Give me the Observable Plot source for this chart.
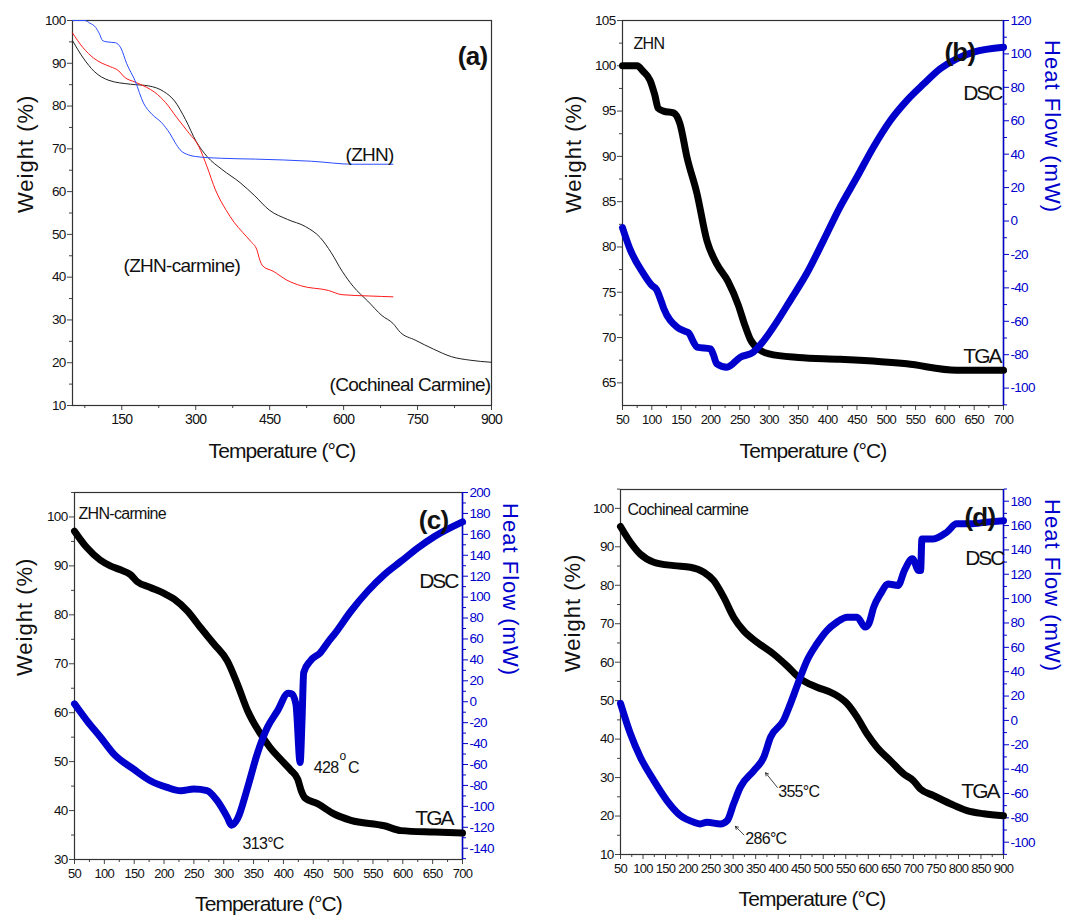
<!DOCTYPE html>
<html><head><meta charset="utf-8">
<script src="https://cdn.jsdelivr.net/npm/d3@7"></script>
<script src="https://cdn.jsdelivr.net/npm/@observablehq/plot@0.6"></script>
<style>
body{margin:0;background:#fff;}
#root{position:relative;width:1072px;height:924px;overflow:hidden;background:#fff;}
.panel{position:absolute;}
.panel svg{font-family:"Liberation Sans",Arial,Helvetica,sans-serif;letter-spacing:-0.7px;overflow:visible;background:transparent;}
</style></head><body><div id="root"></div>
<script>
// ---- TGA data (temperature °C, weight %) ----
const zhnT = [50, 75, 85, 97, 105, 111, 120, 137, 148, 160, 177, 194, 211, 230, 248, 258, 268, 285, 300, 350, 421, 535, 620, 700];
const zhnW = [100, 100, 99.4, 98.4, 96.8, 95.3, 95, 94.8, 93.6, 89.9, 85.9, 80.7, 78.1, 76.2, 73.5, 71.5, 69.8, 68.6, 68.2, 67.8, 67.6, 67.1, 66.4, 66.4];

const zcT = [50, 71, 93, 110, 127, 144, 155, 177, 200, 217, 239, 261, 284, 306, 323, 340, 362, 378, 395, 412, 424, 430, 436, 457, 485, 513, 569, 597, 653, 700];
const zcW = [97.1, 93.7, 91.2, 90, 89.2, 88.2, 86.8, 85.6, 84.4, 83.2, 80.8, 77.4, 74, 70.6, 65.8, 60.4, 55.6, 52.8, 50.5, 48.3, 46.4, 44, 42.6, 41.4, 39.3, 38, 36.9, 35.9, 35.6, 35.4];

const ccT = [50, 72, 94, 124, 168, 205, 235, 257, 279, 301, 323, 353, 390, 419, 449, 486, 523, 553, 575, 597, 619, 649, 678, 700, 715, 745, 782, 819, 856, 900];
const ccW = [95.3, 91.2, 88.1, 86, 85.1, 84.7, 83.4, 81.2, 76.9, 71.7, 68.2, 65.2, 62.1, 59.1, 55.7, 53.5, 51.8, 49.2, 45.7, 41.4, 37.9, 34.4, 31, 29.2, 27.1, 25.3, 23.2, 21.4, 20.6, 20.1];

// ---- DSC data (temperature °C, heat flow mW) ----
const dscZhnT = [50, 63, 86, 100, 108, 114, 120, 143, 157, 163, 172, 177, 200, 205, 211, 228, 251, 273, 290, 313, 336, 364, 393, 421, 450, 478, 507, 535, 564, 592, 620, 649, 700];
const dscZhnH = [-4, -17, -31.6, -38.5, -41, -46, -52, -63.5, -66, -67, -73, -75.5, -76.5, -80, -85.5, -87.5, -81.5, -78.5, -72, -60.5, -47.6, -31.6, -11.6, 8.3, 26.3, 44.2, 60.2, 72.1, 82.1, 91.1, 97.1, 101.1, 104];

const dscZcT = [50, 71, 94, 116, 149, 177, 205, 228, 250, 272, 289, 306, 313, 323, 340, 356, 373, 390, 408, 414, 421, 428, 431, 434, 445, 462, 476, 485, 513, 541, 569, 597, 625, 653, 700];
const dscZcH = [-2, -18.3, -34.2, -50.1, -64.4, -75.5, -81.9, -85, -83.5, -85, -94.6, -110.5, -118, -112, -81.9, -50.1, -24.7, -8.8, 8, 7.5, -2.4, -58, -20, 28, 39, 47, 58, 64.3, 86.5, 105.6, 121.5, 134.2, 147, 158, 172];

const dscCcT = [50, 72, 94, 124, 153, 183, 213, 227, 242, 272, 287, 301, 316, 346, 368, 383, 412, 427, 449, 464, 486, 508, 530, 553, 575, 593, 601, 612, 627, 644, 666, 680, 698, 712, 716, 719, 744, 774, 796, 826, 863, 900];
const dscCcH = [14, -11, -30.2, -49.4, -65.8, -78.1, -83.6, -85, -83.6, -85, -82.2, -68.5, -54.8, -41.2, -30.2, -13.8, 0.1, 13.6, 35.5, 49.2, 62.9, 73.8, 80.6, 84.8, 84.8, 76.6, 79.3, 93, 103.9, 112, 110.8, 123, 132.7, 123, 123, 149, 149, 154.5, 161.4, 161.4, 162.8, 164];

// ---- annotated peaks ----
const peaksC = [313, 428];
const peaksD = [286, 355];

// ---- tick values ----
const range = (a, b, s) => d3.range(a, b + s / 2, s);
const ticksA = {xMaj: range(150, 900, 150), xMin: range(75, 825, 150), yMaj: range(10, 100, 10), yMin: range(15, 95, 10)};
const ticksB = {xMaj: range(50, 700, 50), xMin: range(75, 675, 50), yMaj: range(65, 105, 5), yMin: range(67.5, 102.5, 5), rMaj: range(-100, 120, 20), rMin: range(-110, 110, 20)};
const ticksC = {xMaj: range(50, 700, 50), xMin: range(75, 675, 50), yMaj: range(30, 100, 10), yMin: range(35, 105, 10), rMaj: range(-140, 200, 20), rMin: range(-150, 190, 20)};
const ticksD = {xMaj: range(50, 900, 50), xMin: range(75, 875, 50), yMaj: range(10, 100, 10), yMin: range(15, 105, 10), rMaj: range(-100, 180, 20), rMin: range(-110, 190, 20)};

const BLUE = "#0000cc";
const rows = (T, V) => T.map((t, i) => ({t, v: V[i]}));

function mapper(yD, rD) {
  const k = (yD[1] - yD[0]) / (rD[1] - rD[0]);
  return {to: v => yD[0] + (v - rD[0]) * k, from: y => rD[0] + (y - yD[0]) / k};
}

function axes(tk, m, xFont) {
  const out = [
    Plot.axisX({ticks: tk.xMaj, tickSize: 5, tickPadding: 4, tickFormat: d => String(d), label: null, fontSize: xFont, stroke: "#444", fill: "#111"}),
    Plot.axisX({ticks: tk.xMin, tickSize: 3, tickFormat: () => "", label: null, stroke: "#444"}),
    Plot.axisY({ticks: tk.yMaj, tickSize: 5, tickPadding: 2, tickFormat: d => String(d), label: null, fontSize: 13.5, stroke: "#444", fill: "#111"}),
    Plot.axisY({ticks: tk.yMin, tickSize: 3, tickFormat: () => "", label: null, stroke: "#444"})
  ];
  if (m) {
    out.push(
      Plot.axisY({anchor: "right", ticks: tk.rMaj.map(m.to), tickSize: 5, tickPadding: 2, tickFormat: d => String(Math.round(m.from(d))), label: null, fontSize: 13.5, stroke: BLUE, fill: BLUE}),
      Plot.axisY({anchor: "right", ticks: tk.rMin.map(m.to), tickSize: 3, tickFormat: () => "", label: null, stroke: BLUE})
    );
  }
  return out;
}

function titles(dxW, dyT, dxH, showH) {
  const t = [
    Plot.text(["Weight (%)"], {frameAnchor: "left", dx: dxW, rotate: -90, fontSize: 22, fill: "#111"}),
    Plot.text(["Temperature (°C)"], {frameAnchor: "bottom", dy: dyT, fontSize: 21, fill: "#111"})
  ];
  if (showH) t.push(Plot.text(["Heat Flow (mW)"], {frameAnchor: "right", dx: dxH, rotate: 90, fontSize: 22, fill: BLUE}));
  return t;
}

function place(svg, left, top) {
  const d = document.createElement("div");
  d.className = "panel";
  d.style.left = left + "px";
  d.style.top = top + "px";
  d.appendChild(svg);
  document.getElementById("root").appendChild(d);
  const s = d3.select(svg);
  s.selectAll("text").each(function () {
    const txt = this.textContent;
    if (txt === "Weight (%)" || txt === "Heat Flow (mW)") this.setAttribute("letter-spacing", "1px");
    if (txt === "DSC" || txt === "TGA") this.setAttribute("letter-spacing", "-2px");
    if (txt === "Temperature (°C)") this.setAttribute("letter-spacing", "-0.9px");
  });
}

// ---------- Panel (a) ----------
{
  const yD = [10, 100];
  const svg = Plot.plot({
    width: 536, height: 470, marginTop: 20, marginRight: 45, marginBottom: 65, marginLeft: 72,
    x: {domain: [50, 900]}, y: {domain: yD},
    marks: [
      ...axes(ticksA, null, 14),
      Plot.frame({stroke: "#333", strokeWidth: 1.2}),
      Plot.line(rows(ccT, ccW), {x: "t", y: "v", stroke: "#222", strokeWidth: 1, curve: "monotone-x"}),
      Plot.line(rows(zcT, zcW), {x: "t", y: "v", stroke: "#ff1a1a", strokeWidth: 1, curve: "monotone-x"}),
      Plot.line(rows(zhnT, zhnW), {x: "t", y: "v", stroke: "#2a4bff", strokeWidth: 1, curve: "monotone-x"}),
      Plot.text(["(a)"], {frameAnchor: "top-right", dx: -4, dy: 26, textAnchor: "end", fontSize: 26, fontWeight: "bold", fill: "#111"}),
      Plot.text(["(ZHN)"], {frameAnchor: "top-left", dx: 273, dy: 127, textAnchor: "start", fontSize: 19, fill: "#111"}),
      Plot.text(["(ZHN-carmine)"], {frameAnchor: "top-left", dx: 51, dy: 238, textAnchor: "start", fontSize: 19, fill: "#111"}),
      Plot.text(["(Cochineal Carmine)"], {frameAnchor: "top-right", dx: -1, dy: 357, textAnchor: "end", fontSize: 19, fill: "#111"}),
      ...titles(-47, 52, 0, false)
    ]
  });
  place(svg, 0, 0);
}

// ---------- Panel (b) ----------
{
  const yD = [62.5, 105], rD = [-110.4, 120];
  const m = mapper(yD, rD);
  const svg = Plot.plot({
    width: 536, height: 470, marginTop: 20, marginRight: 69, marginBottom: 65, marginLeft: 86,
    x: {domain: [50, 700]}, y: {domain: yD},
    marks: [
      ...axes(ticksB, m, 13),
      Plot.frame({stroke: "#333", strokeWidth: 1.2}),
      Plot.ruleX([700], {stroke: BLUE, strokeWidth: 1.5}),
      Plot.line(rows(zhnT, zhnW), {x: "t", y: "v", stroke: "#000", strokeWidth: 7, curve: "monotone-x", strokeLinejoin: "round"}),
      Plot.line(rows(dscZhnT, dscZhnH), {x: "t", y: d => m.to(d.v), stroke: BLUE, strokeWidth: 7, curve: "monotone-x", strokeLinejoin: "round"}),
      Plot.text(["(b)"], {frameAnchor: "top-right", dx: -28, dy: 22, textAnchor: "end", fontSize: 26, fontWeight: "bold", fill: "#111"}),
      Plot.text(["ZHN"], {frameAnchor: "top-left", dx: 11, dy: 17, textAnchor: "start", fontSize: 16, fill: "#111"}),
      Plot.text(["DSC"], {frameAnchor: "top-right", dx: -2, dy: 65, textAnchor: "end", fontSize: 21, fill: "#111"}),
      Plot.text(["TGA"], {frameAnchor: "top-right", dx: -3, dy: 328, textAnchor: "end", fontSize: 21, fill: "#111"}),
      ...titles(-49, 52, 49, true)
    ]
  });
  place(svg, 536, 0);
}

// ---------- Panel (c) ----------
{
  const yD = [30, 105], rD = [-150.8, 200];
  const m = mapper(yD, rD);
  const svg = Plot.plot({
    width: 536, height: 454, marginTop: 22, marginRight: 74, marginBottom: 65, marginLeft: 74,
    x: {domain: [50, 700]}, y: {domain: yD},
    marks: [
      ...axes(ticksC, m, 13),
      Plot.frame({stroke: "#333", strokeWidth: 1.2}),
      Plot.ruleX([700], {stroke: BLUE, strokeWidth: 1.5}),
      Plot.line(rows(zcT, zcW), {x: "t", y: "v", stroke: "#000", strokeWidth: 7, curve: "monotone-x", strokeLinejoin: "round"}),
      Plot.line(rows(dscZcT, dscZcH), {x: "t", y: d => m.to(d.v), stroke: BLUE, strokeWidth: 7, curve: "monotone-x", strokeLinejoin: "round"}),
      Plot.text(["(c)"], {frameAnchor: "top-right", dx: -14, dy: 18, textAnchor: "end", fontSize: 26, fontWeight: "bold", fill: "#111"}),
      Plot.text(["ZHN-carmine"], {frameAnchor: "top-left", dx: 4, dy: 15, textAnchor: "start", fontSize: 16, fill: "#111"}),
      Plot.text(["DSC"], {frameAnchor: "top-right", dx: -5, dy: 81, textAnchor: "end", fontSize: 21, fill: "#111"}),
      Plot.text(["TGA"], {frameAnchor: "top-right", dx: -10, dy: 318, textAnchor: "end", fontSize: 21, fill: "#111"}),
      Plot.text([peaksC[0]], {x: d => d + 53, y: m.to(-136), text: d => `${d}°C`, fontSize: 16, fill: "#111"}),
      Plot.text([peaksC[1]], {x: d => d + 23, y: m.to(-63), text: d => String(d), textAnchor: "start", fontSize: 16, fill: "#111"}),
      Plot.text(["o"], {x: 499, y: m.to(-52), fontSize: 12, fill: "#111"}),
      Plot.text(["C"], {x: 508, y: m.to(-63), textAnchor: "start", fontSize: 16, fill: "#111"}),
      ...titles(-50, 51, 48, true)
    ]
  });
  place(svg, 0, 470);
}

// ---------- Panel (d) ----------
{
  const yD = [10, 104.9], rD = [-110.1, 189.6];
  const m = mapper(yD, rD);
  const svg = Plot.plot({
    width: 536, height: 454, marginTop: 19, marginRight: 69, marginBottom: 70, marginLeft: 84,
    x: {domain: [50, 900]}, y: {domain: yD},
    marks: [
      ...axes(ticksD, m, 13),
      Plot.frame({stroke: "#333", strokeWidth: 1.2}),
      Plot.ruleX([900], {stroke: BLUE, strokeWidth: 1.5}),
      Plot.line(rows(ccT, ccW), {x: "t", y: "v", stroke: "#000", strokeWidth: 7, curve: "monotone-x", strokeLinejoin: "round"}),
      Plot.line(rows(dscCcT, dscCcH), {x: "t", y: d => m.to(d.v), stroke: BLUE, strokeWidth: 7, curve: "monotone-x", strokeLinejoin: "round"}),
      Plot.text(["(d)"], {frameAnchor: "top-right", dx: -8, dy: 18, textAnchor: "end", fontSize: 26, fontWeight: "bold", fill: "#111"}),
      Plot.text(["Cochineal carmine"], {frameAnchor: "top-left", dx: 7, dy: 14, textAnchor: "start", fontSize: 16, fill: "#111"}),
      Plot.text(["DSC"], {frameAnchor: "top-right", dx: 0, dy: 61, textAnchor: "end", fontSize: 21, fill: "#111"}),
      Plot.text(["TGA"], {frameAnchor: "top-right", dx: -5, dy: 294, textAnchor: "end", fontSize: 21, fill: "#111"}),
      Plot.arrow([peaksD[1]], {x1: 398, y1: m.to(-55), x2: 372, y2: m.to(-43), stroke: "#111", strokeWidth: 0.8, headLength: 6}),
      Plot.arrow([peaksD[0]], {x1: 324, y1: m.to(-94), x2: 305, y2: m.to(-87), stroke: "#111", strokeWidth: 0.8, headLength: 6}),
      Plot.text([peaksD[1]], {x: 400, y: m.to(-59), text: d => `${d}°C`, textAnchor: "start", fontSize: 16, fill: "#111"}),
      Plot.text([peaksD[0]], {x: 327, y: m.to(-97), text: d => `${d}°C`, textAnchor: "start", fontSize: 16, fill: "#111"}),
      ...titles(-48, 51, 49, true)
    ]
  });
  place(svg, 536, 470);
}
</script></body></html>
